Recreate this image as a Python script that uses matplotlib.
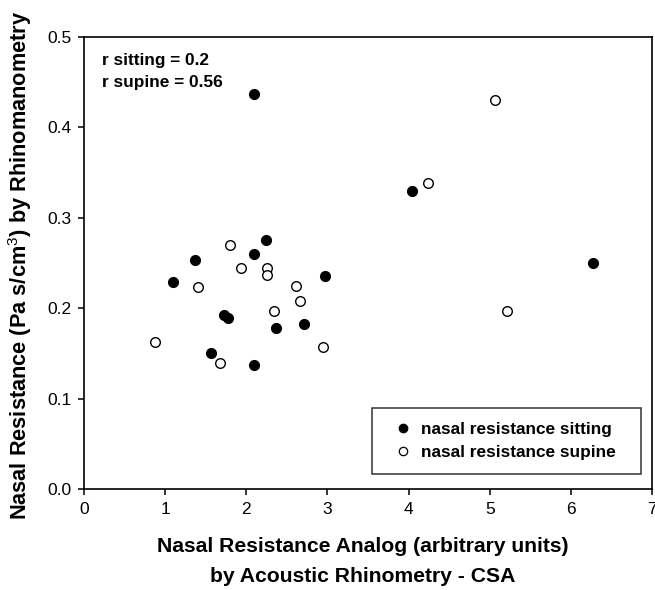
import matplotlib
matplotlib.use("Agg")
import matplotlib.pyplot as plt
from matplotlib.lines import Line2D

# ---- data ----
sitting_x = [2.10, 2.24, 2.10, 1.37, 1.10, 2.97, 1.73, 1.78, 2.37, 2.71, 1.56, 2.10, 4.04, 6.27]
sitting_y = [0.437, 0.275, 0.260, 0.253, 0.229, 0.236, 0.192, 0.189, 0.178, 0.183, 0.150, 0.137, 0.330, 0.250]
supine_x = [1.80, 1.93, 2.25, 2.25, 1.41, 2.61, 2.66, 2.34, 0.87, 1.68, 2.95, 5.07, 4.24, 5.21]
supine_y = [0.270, 0.245, 0.245, 0.237, 0.223, 0.225, 0.208, 0.197, 0.163, 0.139, 0.157, 0.430, 0.338, 0.197]
x_ticks = [0, 1, 2, 3, 4, 5, 6, 7]
y_ticks = [0.0, 0.1, 0.2, 0.3, 0.4, 0.5]
y_tick_labels = ["0.0", "0.1", "0.2", "0.3", "0.4", "0.5"]
legend_labels = ["nasal resistance sitting", "nasal resistance supine"]
annot_lines = ["r sitting = 0.2", "r supine = 0.56"]
xlabel_lines = ["Nasal Resistance Analog (arbitrary units)", "by Acoustic Rhinometry - CSA"]
ylabel = "Nasal Resistance (Pa s/cm$^3$) by Rhinomanometry"

fam = "Liberation Sans"
plt.rcParams["font.family"] = [fam, "DejaVu Sans"]
plt.rcParams["mathtext.fontset"] = "custom"
plt.rcParams["mathtext.rm"] = fam
plt.rcParams["mathtext.bf"] = fam + ":bold"

W, H = 655, 590
fig = plt.figure(figsize=(W / 100, H / 100), dpi=100)
ax = fig.add_axes([84 / W, 1 - 489 / H, (652 - 84) / W, (489 - 37) / H])

ax.scatter(sitting_x, sitting_y, s=52, c="black", edgecolors="black", linewidths=0.8, zorder=3)
ax.scatter(supine_x, supine_y, s=48, c="white", edgecolors="black", linewidths=1.0, zorder=3)

ax.set_xlim(0, 7)
ax.set_ylim(0, 0.5)
ax.set_xticks(x_ticks)
ax.set_yticks(y_ticks)
ax.set_yticklabels(y_tick_labels)
ax.tick_params(direction="out", length=4, width=1.1, labelsize=12.5, pad=5,
               top=False, right=False)
for sp in ax.spines.values():
    sp.set_linewidth(1.2)

# annotation
ax.text(101.7 / W, 1 - 60 / H, annot_lines[0], transform=fig.transFigure,
        fontsize=12.4, fontweight="bold", ha="left", va="center")
ax.text(101.7 / W, 1 - 83 / H, annot_lines[1], transform=fig.transFigure,
        fontsize=12.4, fontweight="bold", ha="left", va="center")

# legend
handles = [
    Line2D([], [], marker="o", linestyle="none", markerfacecolor="black",
           markeredgecolor="black", markersize=6),
    Line2D([], [], marker="o", linestyle="none", markerfacecolor="white",
           markeredgecolor="black", markersize=6, markeredgewidth=0.9),
]
aw, ah = (652 - 84), (489 - 37)
bx0 = (372 - 84) / aw
by0 = (489 - 474) / ah
bw = (641 - 372) / aw
bh = (474 - 408) / ah
leg = ax.legend(handles, legend_labels, loc="lower left",
                bbox_to_anchor=(bx0, by0, bw, bh), mode="expand",
                frameon=True, fancybox=False, edgecolor="black",
                prop={"size": 12.4, "weight": "bold"},
                handlelength=2.0, handletextpad=0.0, borderpad=0.82,
                labelspacing=0.45, borderaxespad=0)
leg.get_frame().set_linewidth(1.1)

# axis labels as figure text
fig.text(363 / W, 1 - 547 / H, xlabel_lines[0], fontsize=15.2, fontweight="bold",
         ha="center", va="center")
fig.text(363 / W, 1 - 577 / H, xlabel_lines[1], fontsize=15.2, fontweight="bold",
         ha="center", va="center")
fig.text(20 / W, 1 - 265 / H, ylabel, fontsize=15.7, fontweight="bold",
         rotation=90, ha="center", va="center")

fig.savefig("out.png", dpi=100)
